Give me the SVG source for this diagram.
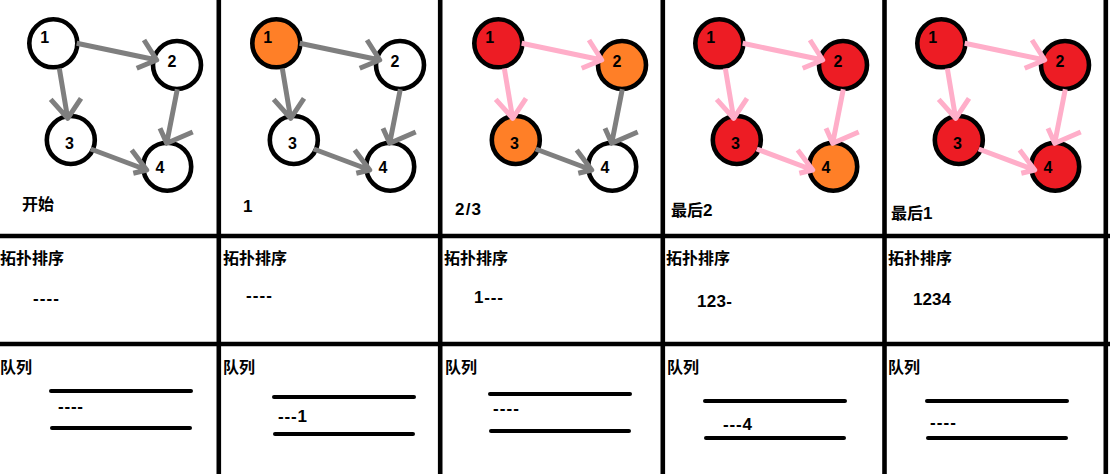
<svg xmlns="http://www.w3.org/2000/svg" width="1110" height="474" viewBox="0 0 1110 474">
<style>
.bg{fill:#ffffff}
.grid line{stroke:#000;stroke-width:4.6}
.q line{stroke:#000;stroke-width:4;stroke-linecap:round}
.node circle{stroke:#000;stroke-width:4.6}
.w{fill:#ffffff}.o{fill:#FF7F27}.r{fill:#ED1C24}
.node text{font-family:"Liberation Sans",sans-serif;font-size:16px;font-weight:bold;fill:#000;text-anchor:middle}
.e{fill:none;stroke-width:5;stroke-linejoin:round;stroke-linecap:butt}
.g{stroke:#7F7F7F}.p{stroke:#FFAEC9}
.cjk{font-family:"Liberation Sans","Noto Sans CJK SC",sans-serif;font-size:16px;font-weight:bold;fill:#000}
.big{font-size:17px}
.num{font-family:"Liberation Sans",sans-serif;font-size:17px;font-weight:bold;fill:#000}
</style>
<defs>
<g id="e12"><path d="M76.7,43.3 L156.7,60 M144,40 L156.7,60 L136.7,68.3"/></g>
<g id="e13"><path d="M59.3,68.3 L67.7,118.3 M50.7,99.3 L67.7,118.3 L81,98.3"/></g>
<g id="e24"><path d="M177.3,89.3 L166.7,143.3 M160,128.3 L166.7,143.3 L192.7,132"/></g>
<g id="e34"><path d="M90.7,149 L146.7,170 M131.7,150 L146.7,170 L133.3,173.3"/></g>
</defs>
<rect class="bg" x="0" y="0" width="1110" height="474"/>
<g id="grid" class="grid">
<line x1="218.8" y1="0" x2="218.8" y2="474"/>
<line x1="440.2" y1="0" x2="440.2" y2="474"/>
<line x1="662.8" y1="0" x2="662.8" y2="474"/>
<line x1="884.5" y1="0" x2="884.5" y2="474"/>
<line x1="1105.8" y1="0" x2="1105.8" y2="474"/>
<line x1="0" y1="236" x2="1110" y2="236"/>
<line x1="0" y1="344" x2="1110" y2="344"/>
</g>
<g id="panel1">
<g id="p1-n1" class="node" transform="translate(53.3,43.3)"><circle class="w" r="24"/><text x="-8.5" y="-0.3">1</text></g>
<g id="p1-n2" class="node" transform="translate(177,65)"><circle class="w" r="24"/><text x="-5" y="1.5">2</text></g>
<g id="p1-n3" class="node" transform="translate(70.8,140)"><circle class="w" r="24"/><text x="-1.3" y="9">3</text></g>
<g id="p1-n4" class="node" transform="translate(167.2,166.7)"><circle class="w" r="24"/><text x="-7.2" y="5.8">4</text></g>
</g>
<g id="panel2" transform="translate(223,0)">
<g id="p2-n1" class="node" transform="translate(53.3,43.3)"><circle class="o" r="24"/><text x="-8.5" y="-0.3">1</text></g>
<g id="p2-n2" class="node" transform="translate(177,65)"><circle class="w" r="24"/><text x="-5" y="1.5">2</text></g>
<g id="p2-n3" class="node" transform="translate(70.8,140)"><circle class="w" r="24"/><text x="-1.3" y="9">3</text></g>
<g id="p2-n4" class="node" transform="translate(167.2,166.7)"><circle class="w" r="24"/><text x="-7.2" y="5.8">4</text></g>
</g>
<g id="panel3" transform="translate(445,0)">
<g id="p3-n1" class="node" transform="translate(53.3,43.3)"><circle class="r" r="24"/><text x="-8.5" y="-0.3">1</text></g>
<g id="p3-n2" class="node" transform="translate(177,65)"><circle class="o" r="24"/><text x="-5" y="1.5">2</text></g>
<g id="p3-n3" class="node" transform="translate(70.8,140)"><circle class="o" r="24"/><text x="-1.3" y="9">3</text></g>
<g id="p3-n4" class="node" transform="translate(167.2,166.7)"><circle class="w" r="24"/><text x="-7.2" y="5.8">4</text></g>
</g>
<g id="panel4" transform="translate(666,0)">
<g id="p4-n1" class="node" transform="translate(53.3,43.3)"><circle class="r" r="24"/><text x="-8.5" y="-0.3">1</text></g>
<g id="p4-n2" class="node" transform="translate(177,65)"><circle class="r" r="24"/><text x="-5" y="1.5">2</text></g>
<g id="p4-n3" class="node" transform="translate(70.8,140)"><circle class="r" r="24"/><text x="-1.3" y="9">3</text></g>
<g id="p4-n4" class="node" transform="translate(167.2,166.7)"><circle class="o" r="24"/><text x="-7.2" y="5.8">4</text></g>
</g>
<g id="panel5" transform="translate(888,0)">
<g id="p5-n1" class="node" transform="translate(53.3,43.3)"><circle class="r" r="24"/><text x="-8.5" y="-0.3">1</text></g>
<g id="p5-n2" class="node" transform="translate(177,65)"><circle class="r" r="24"/><text x="-5" y="1.5">2</text></g>
<g id="p5-n3" class="node" transform="translate(70.8,140)"><circle class="r" r="24"/><text x="-1.3" y="9">3</text></g>
<g id="p5-n4" class="node" transform="translate(167.2,166.7)"><circle class="r" r="24"/><text x="-7.2" y="5.8">4</text></g>
</g>
<g id="connectors">
<g class="e g"><use href="#e12"/><use href="#e13"/><use href="#e24"/><use href="#e34"/></g>
<g class="e g" transform="translate(223,0)"><use href="#e12"/><use href="#e13"/><use href="#e24"/><use href="#e34"/></g>
<g transform="translate(445,0)"><g class="e p"><use href="#e12"/><use href="#e13"/></g><g class="e g"><use href="#e24"/><use href="#e34"/></g></g>
<g class="e p" transform="translate(666,0)"><use href="#e12"/><use href="#e13"/><use href="#e24"/><use href="#e34"/></g>
<g class="e p" transform="translate(888,0)"><use href="#e12"/><use href="#e13"/><use href="#e24"/><use href="#e34"/></g>
</g>
<g id="labels">
<text class="cjk" x="22" y="210">开始</text>
<text class="cjk big" x="243" y="212">1</text>
<text class="cjk big" x="455" y="215" textLength="26">2/3</text>
<text class="cjk" x="671" y="216">最后<tspan class="big">2</tspan></text>
<text class="cjk" x="891" y="219">最后<tspan class="big">1</tspan></text>
<text class="cjk" x="0" y="264">拓扑排序</text>
<text class="cjk" x="223" y="264">拓扑排序</text>
<text class="cjk" x="444" y="264">拓扑排序</text>
<text class="cjk" x="666" y="264">拓扑排序</text>
<text class="cjk" x="888" y="264">拓扑排序</text>
<text class="num" x="33" y="304" textLength="26">----</text>
<text class="num" x="246" y="301" textLength="26">----</text>
<text class="num" x="474" y="303" textLength="29">1---</text>
<text class="num" x="697" y="307" textLength="35">123-</text>
<text class="num" x="913" y="305" textLength="38">1234</text>
<text class="cjk" x="0" y="373">队列</text>
<text class="cjk" x="223" y="373">队列</text>
<text class="cjk" x="445" y="373">队列</text>
<text class="cjk" x="667" y="373">队列</text>
<text class="cjk" x="888" y="373">队列</text>
<text class="num" x="58" y="412" textLength="25">----</text>
<text class="num" x="278" y="422" textLength="29">---1</text>
<text class="num" x="493" y="414" textLength="26">----</text>
<text class="num" x="723" y="430" textLength="29">---4</text>
<text class="num" x="930" y="428" textLength="26">----</text>
</g>
<g id="queues" class="q">
<line x1="51" y1="391" x2="191" y2="391"/><line x1="52" y1="428" x2="190" y2="428"/>
<line x1="274" y1="397" x2="414" y2="397"/><line x1="275" y1="434" x2="413" y2="434"/>
<line x1="490" y1="394" x2="630" y2="394"/><line x1="491" y1="431" x2="629" y2="431"/>
<line x1="705" y1="401" x2="845" y2="401"/><line x1="706" y1="438" x2="844" y2="438"/>
<line x1="927" y1="401" x2="1067" y2="401"/><line x1="928" y1="438" x2="1066" y2="438"/>
</g>
</svg>
